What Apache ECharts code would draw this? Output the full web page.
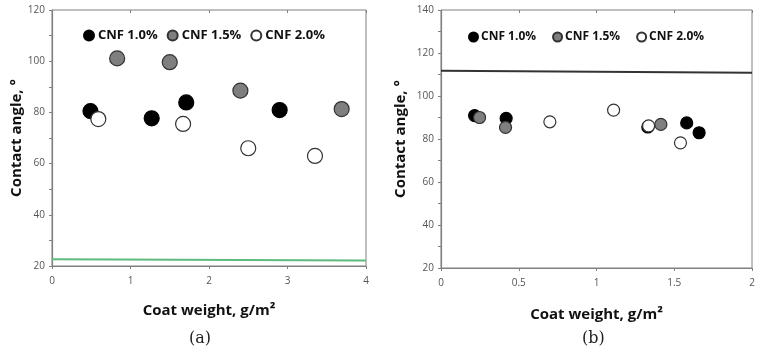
<!DOCTYPE html>
<html>
<head>
<meta charset="utf-8">
<script src="https://cdn.jsdelivr.net/npm/echarts@6/dist/echarts.min.js"></script>
<style>
  html, body { margin: 0; padding: 0; background: #fff; }
  #chart { width: 762px; height: 353px; }
</style>
</head>
<body>
<div id="chart"></div>
<script>
// panel (a): coat weight (g/m2) vs contact angle
var a10 = [[0.49, 80.5], [1.27, 77.7], [1.71, 83.9], [2.90, 80.9]];
var a15 = [[0.83, 101.1], [1.50, 99.6], [2.40, 88.5], [3.69, 81.3]];
var a20 = [[0.59, 77.4], [1.67, 75.5], [2.50, 66.0], [3.35, 63.0]];
var aRef = [[0, 22.6], [4, 22.1]];

// panel (b)
var b10 = [[0.216, 90.9], [0.419, 89.6], [1.33, 85.6], [1.58, 87.5], [1.66, 82.9]];
var b15 = [[0.248, 90.0], [0.415, 85.4], [1.414, 86.8]];
var b20 = [[0.70, 88.0], [1.11, 93.4], [1.335, 86.1], [1.54, 78.2]];
var bRef = [[0, 111.7], [2, 110.8]];

var names = ['CNF 1.0%', 'CNF 1.5%', 'CNF 2.0%'];
var captions = ['(a)', '(b)'];
var yTitle = 'Contact angle, °';
var xTitle = 'Coat weight, g/m²';

var chart = echarts.init(document.getElementById('chart'));

var axisCol = '#808080';
var lblStyle = { fontFamily: 'Open Sans', fontSize: 10, color: '#555' };
var titleStyle = { fontFamily: 'Open Sans', fontSize: 15, fontWeight: 'bold', color: '#111' };

/* main axis (labels, outer ticks) */
function mainX(grid, max, step, gap) {
    return {
        type: 'value', gridIndex: grid, min: 0, max: max, interval: step,
        name: xTitle, nameLocation: 'middle', nameGap: gap, nameTextStyle: titleStyle,
        axisLine: { show: true, lineStyle: { color: axisCol, width: 1.2 } },
        axisTick: { show: true, length: 3, lineStyle: { color: axisCol } },
        axisLabel: Object.assign({ margin: 10 }, lblStyle),
        splitLine: { show: false }
    };
}
/* overlay axis: inner ticks so majors cross the line */
function innerX(grid, max, step) {
    return {
        type: 'value', gridIndex: grid, min: 0, max: max, interval: step,
        axisLine: { show: false },
        axisTick: { show: true, inside: true, length: 3, lineStyle: { color: axisCol } },
        axisLabel: { show: false }, splitLine: { show: false }
    };
}
function mainY(grid, max, gap) {
    return {
        type: 'value', gridIndex: grid, min: 20, max: max, interval: 20,
        name: yTitle, nameLocation: 'middle', nameGap: gap, nameTextStyle: titleStyle,
        axisLine: { show: true, lineStyle: { color: axisCol, width: 1.2 } },
        axisTick: { show: true, length: 3, lineStyle: { color: axisCol } },
        axisLabel: Object.assign({ margin: 7 }, lblStyle),
        splitLine: { show: false }
    };
}
function innerY(grid, max) {
    return {
        type: 'value', gridIndex: grid, min: 20, max: max, interval: 20,
        axisLine: { show: false },
        axisTick: { show: true, inside: true, length: 3, lineStyle: { color: axisCol } },
        minorTick: { show: true, splitNumber: 2, length: 3, lineStyle: { color: axisCol } },
        axisLabel: { show: false }, splitLine: { show: false }
    };
}

function dots(name, data, xi, yi, size, fill, border) {
    return {
        name: name, type: 'scatter', xAxisIndex: xi, yAxisIndex: yi,
        symbolSize: size, data: data,
        itemStyle: { color: fill, borderColor: border, borderWidth: 1.2, opacity: 1 }
    };
}
function refLine(data, xi, yi, col, w) {
    return {
        type: 'line', xAxisIndex: xi, yAxisIndex: yi, data: data,
        symbol: 'none', silent: true,
        lineStyle: { color: col, width: w }
    };
}

var option = {
    animation: false,
    grid: [
        { left: 52, top: 10, width: 314, height: 256, show: true, borderColor: axisCol, borderWidth: 1 },
        { left: 441, top: 10, width: 311, height: 258, show: true, borderColor: axisCol, borderWidth: 1 }
    ],
    xAxis: [mainX(0, 4, 1, 37), innerX(0, 4, 1), mainX(1, 2, 0.5, 39), innerX(1, 2, 0.5)],
    yAxis: [mainY(0, 120, 27), innerY(0, 120), mainY(1, 140, 33), innerY(1, 140)],
    legend: [
        {
            left: 78, top: 24, icon: 'circle', itemWidth: 10, itemHeight: 10, itemGap: 9,
            data: names,
            textStyle: { fontFamily: 'Open Sans', fontSize: 13, fontWeight: 'bold', color: '#111', padding: [0, 0, 0, -1] }
        },
        {
            left: 463, top: 26, icon: 'circle', itemWidth: 9, itemHeight: 9, itemGap: 16,
            data: names,
            textStyle: { fontFamily: 'Open Sans', fontSize: 12, fontWeight: 'bold', color: '#111', padding: [0, 0, 0, -2] }
        }
    ],
    graphic: [
        { type: 'text', left: 189, top: 331, style: { text: captions[0], font: '16px "DejaVu Serif"', fill: '#222' } },
        { type: 'text', left: 582, top: 331, style: { text: captions[1], font: '16px "DejaVu Serif"', fill: '#222' } }
    ],
    series: [
        refLine(aRef, 0, 0, '#5dbb7d', 2),
        dots(names[0], a10, 0, 0, 15, '#000', '#000'),
        dots(names[1], a15, 0, 0, 15, '#7f7f7f', '#333'),
        dots(names[2], a20, 0, 0, 15, '#fff', '#333'),
        refLine(bRef, 2, 2, '#333', 2),
        dots(names[0], b10, 2, 2, 12, '#000', '#000'),
        dots(names[1], b15, 2, 2, 12, '#7f7f7f', '#333'),
        dots(names[2], b20, 2, 2, 12, '#fff', '#333')
    ]
};

chart.setOption(option);
</script>
</body>
</html>
